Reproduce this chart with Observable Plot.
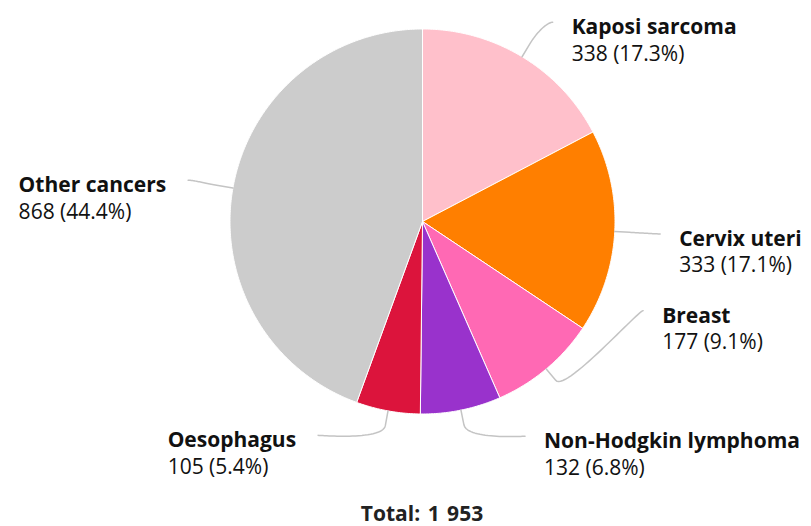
<!DOCTYPE html>
<html><head><meta charset="utf-8">
<script src="https://cdn.jsdelivr.net/npm/d3@7"></script>
<script src="https://cdn.jsdelivr.net/npm/@observablehq/plot@0.6"></script>
<style>
body{margin:0;background:#fff;font-family:'Open Sans',sans-serif;overflow:hidden;}
#wrap{position:relative;width:811px;height:526px;}
#cap{position:absolute;left:422px;top:503px;transform:translateX(-50%);white-space:nowrap;font-weight:bold;font-size:21px;font-family:'Open Sans',sans-serif;line-height:21px;color:#222;word-spacing:2px;}
</style></head><body><div id="wrap"><div id="chart"></div><div id="cap"></div></div>
<script>
// ---- data ----
const categories = ["Kaposi sarcoma","Cervix uteri","Breast","Non-Hodgkin lymphoma","Oesophagus","Other cancers"];
const counts = [338,333,177,132,105,868];
const totalLabel = "Total";

// ---- style / layout ----
const colors = ["#ffc0cb","#ff7f00","#ff69b4","#9932cc","#dc143c","#cccccc"];
const W = 811, H = 499, cx = 422, cy = 221, r = 192.5;
const labelR = 238 / r, breakR = (r + 15) / r;
const labelNudgeDeg = {"Kaposi sarcoma": 2, "Breast": -28, "Non-Hodgkin lymphoma": -14, "Oesophagus": 15.7};
const FS = 21, GAP_R = 19, GAP_L = 22, LINE2 = 26.5, BASE = 12;

const total = d3.sum(counts);
const arcs = d3.pie().sort(null).value(d => d)(counts);
const pt = (a, R) => [R * Math.sin(a), R * Math.cos(a)];
const fmtPct = d3.format(".1f");
const loc = d3.formatLocale({decimal: ".", thousands: " ", grouping: [3], currency: ["", ""]});

const ctx = document.createElement("canvas").getContext("2d");
function tw(t, bold) { ctx.font = `${bold ? "bold " : ""}${FS}px 'Open Sans'`; return ctx.measureText(t).width; }

const slicePts = [], connPts = [], labels = [];
arcs.forEach((a, i) => {
  const name = categories[i];
  const n = Math.max(2, Math.ceil((a.endAngle - a.startAngle) / (0.5 * Math.PI / 180)));
  slicePts.push({name, x: 0, y: 0});
  for (let k = 0; k <= n; k++) {
    const ang = a.startAngle + (a.endAngle - a.startAngle) * k / n;
    const [x, y] = pt(ang, 1);
    slicePts.push({name, x, y});
  }
  slicePts.push({name, x: 0, y: 0});

  const mid = (a.startAngle + a.endAngle) / 2;
  const la = mid + (labelNudgeDeg[name] || 0) * Math.PI / 180;
  const S = pt(mid, 1), B = pt(mid, breakR), E = pt(la, labelR);
  const right = Math.sin(la) > 0;
  const C1 = [E[0] + (right ? -5 : 5) / r, E[1]];
  const C2 = [2 * B[0] - S[0], 2 * B[1] - S[1]];
  const N = 30;
  for (let k = 0; k <= N; k++) {
    const t = k / N, u = 1 - t;
    const x = u*u*u*E[0] + 3*u*u*t*C1[0] + 3*u*t*t*C2[0] + t*t*t*B[0];
    const y = u*u*u*E[1] + 3*u*u*t*C1[1] + 3*u*t*t*C2[1] + t*t*t*B[1];
    connPts.push({name, x, y});
  }
  connPts.push({name, x: S[0], y: S[1]});

  const value = `${counts[i]} (${fmtPct(counts[i] / total * 100)}%)`;
  const w = Math.max(tw(name, true), tw(value, false));
  const off = right ? GAP_R : -GAP_L - w;
  labels.push({name, value, x: E[0] + off / r, y: E[1]});
});

const chart = Plot.plot({
  width: W, height: H, margin: 0,
  style: {fontFamily: "'Open Sans', sans-serif", background: "#fff", overflow: "visible"},
  x: {domain: [-1, 1], range: [cx - r, cx + r], axis: null},
  y: {domain: [-1, 1], range: [cy + r, cy - r], axis: null},
  color: {domain: categories, range: colors},
  marks: [
    Plot.line(slicePts, {x: "x", y: "y", z: "name", fill: "name", stroke: "white", strokeWidth: 1, strokeLinejoin: "round"}),
    Plot.line(connPts, {x: "x", y: "y", z: "name", stroke: "#c4c4c4", strokeWidth: 1.5, fill: "none"}),
    Plot.text(labels, {x: "x", y: "y", text: "name", textAnchor: "start", lineAnchor: "bottom", dy: BASE, fontSize: FS, fontWeight: "bold", fill: "#111"}),
    Plot.text(labels, {x: "x", y: "y", text: "value", textAnchor: "start", lineAnchor: "bottom", dy: BASE + LINE2, fontSize: FS, fill: "#111"})
  ]
});
document.getElementById("chart").appendChild(chart);
document.getElementById("cap").textContent = `${totalLabel}: ${loc.format(",")(total)}`;
</script></body></html>
